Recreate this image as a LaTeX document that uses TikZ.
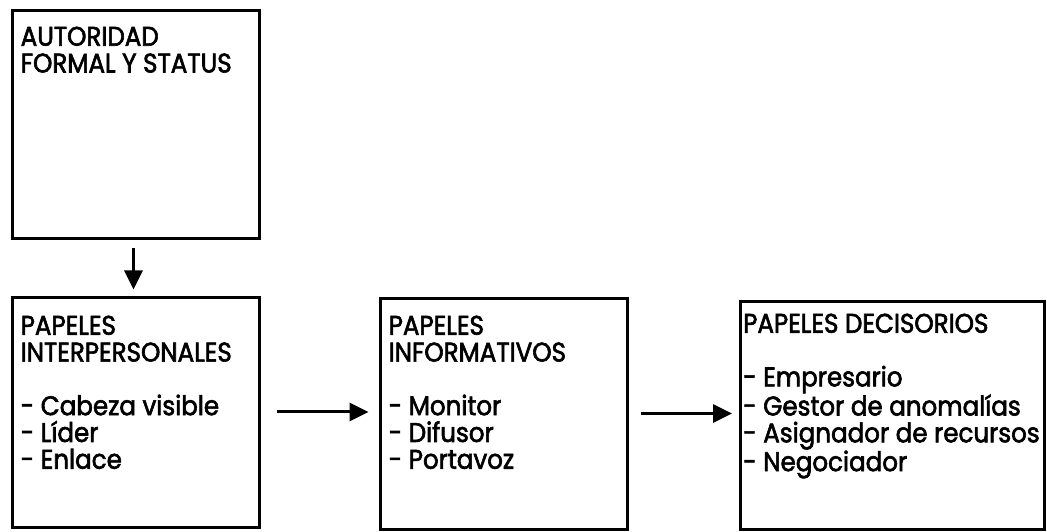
\documentclass[tikz,border=0pt]{standalone}
\usepackage{fontspec}
\newfontfamily\boxfont{Poppins}[FakeStretch=0.91,FakeBold=2.2]
\usetikzlibrary{arrows.meta,calc}
\begin{document}
\begin{tikzpicture}[x=1pt,y=1pt,
  box/.style={draw=black,line width=3pt,minimum width=#1,inner sep=0pt},
  txt/.style={anchor=north west,align=left,inner sep=0pt,
    font=\boxfont\fontsize{27}{26.8}\selectfont},
  conn/.style={line width=3pt,-{Triangle[length=19pt,width=18pt]}}]
\useasboundingbox (0,0) rectangle (1047,532);
% boxes
\node[box=247pt,minimum height=228pt] (auth) at (135.5,407) {};
\node[box=247pt,minimum height=230pt] (inter) at (135.5,119) {};
\node[box=247pt,minimum height=231pt] (info) at (503.5,117.5) {};
\node[box=304pt,minimum height=228pt] (deci) at (892.5,116) {};
% texts
\node[txt] (tauth) at ($(auth.north west)+(10,-17)$)
  {AUTORIDAD\\FORMAL Y STATUS};
\node[txt] (tinter) at ($(inter.north west)+(10,-19)$)
  {PAPELES\\INTERPERSONALES\\[26.8pt]- Cabeza visible\\- Líder\\- Enlace};
\node[txt] (tinfo) at ($(info.north west)+(10,-18)$)
  {PAPELES\\INFORMATIVOS\\[26.8pt]- Monitor\\- Difusor\\- Portavoz};
\node[txt] (tdeci) at ($(deci.north west)+(4,-13)$)
  {PAPELES DECISORIOS\\[26.8pt]- Empresario\\- Gestor de anomalías\\- Asignador de recursos\\- Negociador};
% connectors
\draw[conn,shorten <=8pt,shorten >=7pt] ([xshift=-2pt]auth.south) -- ([xshift=-2pt]inter.north);
\draw[conn,shorten <=16pt,shorten >=10pt] ([yshift=1pt]inter.east) -- ([yshift=1pt]inter.east -| info.west);
\draw[conn,shorten <=12pt,shorten >=7pt] ([yshift=1pt]info.east) -- ([yshift=1pt]info.east -| deci.west);
\end{tikzpicture}
\end{document}
